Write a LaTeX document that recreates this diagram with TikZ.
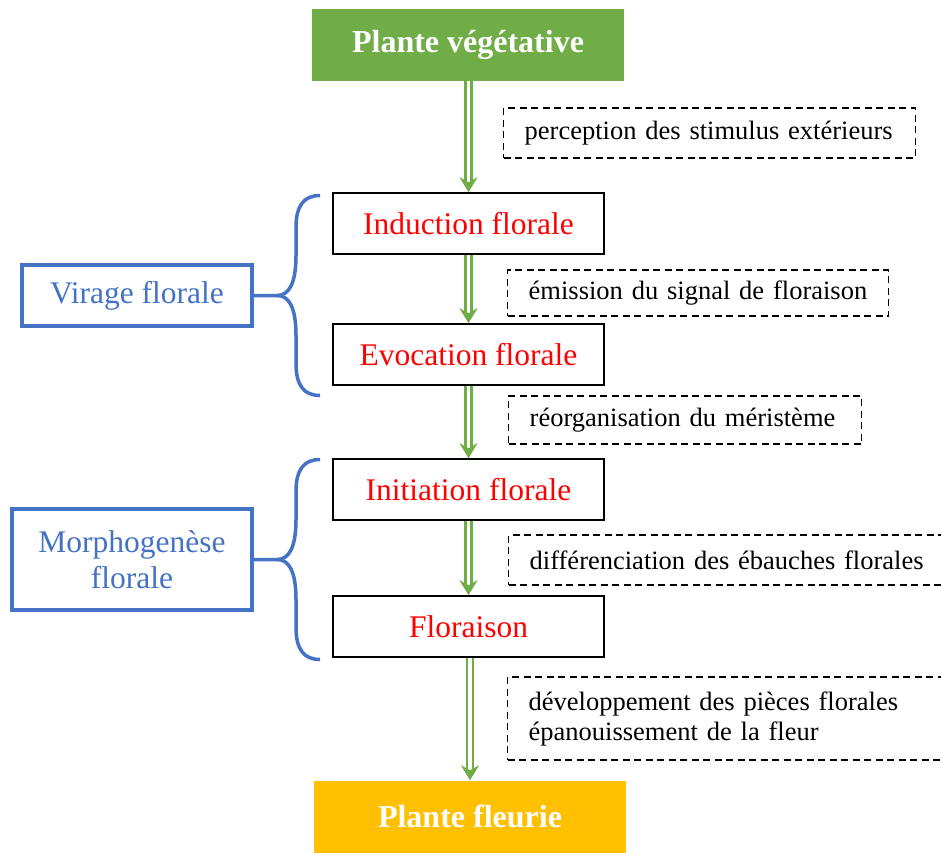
\documentclass[tikz,border=0pt]{standalone}
\usepackage{fontspec}
\setmainfont{Liberation Serif}
\usetikzlibrary{arrows.meta}
\definecolor{leafgreen}{HTML}{70AD47}
\definecolor{bloomgold}{HTML}{FFC000}
\definecolor{groupblue}{HTML}{4472C4}
\tikzstyle{endbox}=[minimum width=312pt, minimum height=72pt, inner sep=0pt, text=white, font=\fontsize{32}{36}\selectfont\bfseries]
\tikzstyle{stagebox}=[draw=black, line width=1.6pt, minimum width=271pt, minimum height=61pt, inner sep=0pt, text=red, font=\fontsize{31.5}{36}\selectfont]
\tikzstyle{groupbox}=[draw=groupblue, line width=4pt, inner sep=0pt, align=center, text=groupblue, font=\fontsize{31.5}{36}\selectfont]
\tikzstyle{notebox}=[draw=black, line width=1.4pt, dash pattern=on 7pt off 4.5pt, anchor=west, align=left, inner xsep=21pt, inner ysep=0pt, font=\fontsize{26.5}{30}\selectfont]
\tikzstyle{flowarrow}=[draw=leafgreen, line width=2.4pt, double=white, double distance=3.5pt, -{Stealth[length=15pt,width=18pt,inset=5pt]}]
\tikzstyle{bracket}=[draw=groupblue, line width=3.5pt]

\begin{document}
\begin{tikzpicture}[x=1pt, y=-1pt]
    \useasboundingbox (0,0) rectangle (941,852);

    % the two end states
    \node[endbox, fill=leafgreen] (veg) at (468,44.5) {Plante végétative};
    \node[endbox, fill=bloomgold] (fleur) at (470,816.5) {Plante fleurie};

    % the stages of flowering
    \foreach \pos/\name/\txt in {{(468.5,223.5)/induc/Induction florale},{(468.5,354.5)/evoc/Evocation florale},
        {(468.5,489.5)/initi/Initiation florale},{(468.5,626.5)/florai/Floraison}}
        \node[stagebox] (\name) at \pos {\txt};

    % arrows between the stages
    \foreach \src/\dst in {veg/induc, induc/evoc, evoc/initi, initi/florai, florai/fleur}
        \draw[flowarrow] (\dst.north |- \src.south) -- (\dst.north);

    % what happens at each step
    \node[notebox, text width=370pt, minimum height=50pt] (percep) at (503,133) {perception des stimulus extérieurs};
    \node[notebox, text width=339pt, minimum height=46pt] (signal) at (507,293) {émission du signal de floraison};
    \node[notebox, text width=311pt, minimum height=48pt] (reorg) at (508,420) {réorganisation du méristème};
    \node[notebox, text width=410pt, minimum height=50pt] (differ) at (508,560) {différenciation des ébauches florales};
    \node[notebox, text width=411pt, minimum height=83pt] (devel) at (507,718.5) {développement des pièces florales\\épanouissement de la fleur};

    % the two groups and their braces
    \node[groupbox, minimum width=230pt, minimum height=61pt] (virage) at (137,295.5) {Virage florale};
    \node[groupbox, minimum width=240pt, minimum height=101pt] (morpho) at (132,559.5) {Morphogenèse\\florale};

    \foreach \grp in {virage, morpho}
    {
        \begin{scope}[shift={(\grp.east)}]
            \draw[bracket] (0,0) -- (23,0)
                .. controls (35,0) and (42,-12) .. (42,-40) -- (42,-68)
                .. controls (42,-90) and (50,-100) .. (66,-100);
            \draw[bracket] (23,0)
                .. controls (35,0) and (42,12) .. (42,40) -- (42,68)
                .. controls (42,90) and (50,100) .. (66,100);
        \end{scope}
    }
\end{tikzpicture}
\end{document}
